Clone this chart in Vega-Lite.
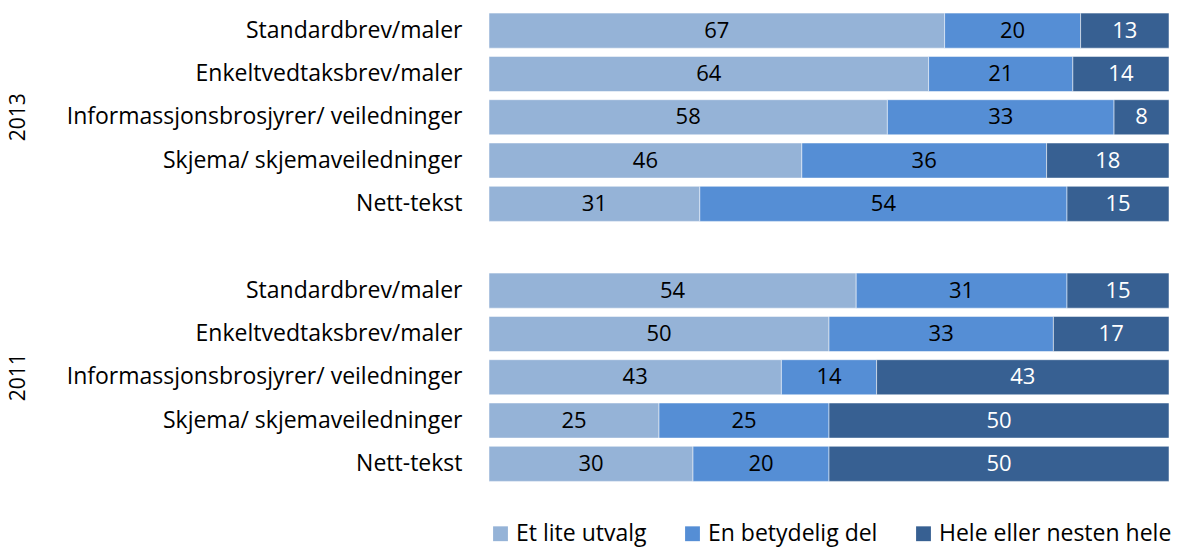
{
  "$schema": "https://vega.github.io/schema/vega-lite/v6.json",
  "padding": {"top": 9, "left": 8, "right": 5, "bottom": 2},
  "config": {
    "font": "Open Sans",
    "view": {"stroke": null},
    "axis": {"grid": false, "domain": false, "ticks": false},
    "legend": {"orient": "bottom", "direction": "horizontal"}
  },
  "data": {"values": [
    {"year": "2013", "cat": "Standardbrev/maler", "series": "Et lite utvalg", "o": 1, "value": 67},
    {"year": "2013", "cat": "Standardbrev/maler", "series": "En betydelig del", "o": 2, "value": 20},
    {"year": "2013", "cat": "Standardbrev/maler", "series": "Hele eller nesten hele", "o": 3, "value": 13},
    {"year": "2013", "cat": "Enkeltvedtaksbrev/maler", "series": "Et lite utvalg", "o": 1, "value": 64},
    {"year": "2013", "cat": "Enkeltvedtaksbrev/maler", "series": "En betydelig del", "o": 2, "value": 21},
    {"year": "2013", "cat": "Enkeltvedtaksbrev/maler", "series": "Hele eller nesten hele", "o": 3, "value": 14},
    {"year": "2013", "cat": "Informassjonsbrosjyrer/ veiledninger", "series": "Et lite utvalg", "o": 1, "value": 58},
    {"year": "2013", "cat": "Informassjonsbrosjyrer/ veiledninger", "series": "En betydelig del", "o": 2, "value": 33},
    {"year": "2013", "cat": "Informassjonsbrosjyrer/ veiledninger", "series": "Hele eller nesten hele", "o": 3, "value": 8},
    {"year": "2013", "cat": "Skjema/ skjemaveiledninger", "series": "Et lite utvalg", "o": 1, "value": 46},
    {"year": "2013", "cat": "Skjema/ skjemaveiledninger", "series": "En betydelig del", "o": 2, "value": 36},
    {"year": "2013", "cat": "Skjema/ skjemaveiledninger", "series": "Hele eller nesten hele", "o": 3, "value": 18},
    {"year": "2013", "cat": "Nett-tekst", "series": "Et lite utvalg", "o": 1, "value": 31},
    {"year": "2013", "cat": "Nett-tekst", "series": "En betydelig del", "o": 2, "value": 54},
    {"year": "2013", "cat": "Nett-tekst", "series": "Hele eller nesten hele", "o": 3, "value": 15},
    {"year": "2011", "cat": "Standardbrev/maler", "series": "Et lite utvalg", "o": 1, "value": 54},
    {"year": "2011", "cat": "Standardbrev/maler", "series": "En betydelig del", "o": 2, "value": 31},
    {"year": "2011", "cat": "Standardbrev/maler", "series": "Hele eller nesten hele", "o": 3, "value": 15},
    {"year": "2011", "cat": "Enkeltvedtaksbrev/maler", "series": "Et lite utvalg", "o": 1, "value": 50},
    {"year": "2011", "cat": "Enkeltvedtaksbrev/maler", "series": "En betydelig del", "o": 2, "value": 33},
    {"year": "2011", "cat": "Enkeltvedtaksbrev/maler", "series": "Hele eller nesten hele", "o": 3, "value": 17},
    {"year": "2011", "cat": "Informassjonsbrosjyrer/ veiledninger", "series": "Et lite utvalg", "o": 1, "value": 43},
    {"year": "2011", "cat": "Informassjonsbrosjyrer/ veiledninger", "series": "En betydelig del", "o": 2, "value": 14},
    {"year": "2011", "cat": "Informassjonsbrosjyrer/ veiledninger", "series": "Hele eller nesten hele", "o": 3, "value": 43},
    {"year": "2011", "cat": "Skjema/ skjemaveiledninger", "series": "Et lite utvalg", "o": 1, "value": 25},
    {"year": "2011", "cat": "Skjema/ skjemaveiledninger", "series": "En betydelig del", "o": 2, "value": 25},
    {"year": "2011", "cat": "Skjema/ skjemaveiledninger", "series": "Hele eller nesten hele", "o": 3, "value": 50},
    {"year": "2011", "cat": "Nett-tekst", "series": "Et lite utvalg", "o": 1, "value": 30},
    {"year": "2011", "cat": "Nett-tekst", "series": "En betydelig del", "o": 2, "value": 20},
    {"year": "2011", "cat": "Nett-tekst", "series": "Hele eller nesten hele", "o": 3, "value": 50}
  ]},
  "facet": {
    "row": {
      "field": "year", "type": "nominal", "sort": ["2013", "2011"],
      "header": {"title": null, "labelAngle": -90, "labelOrient": "left", "labelFontSize": 21, "labelFont": "Open Sans", "labelColor": "#000000", "labelPadding": 26}
    }
  },
  "spacing": {"row": 43},
  "spec": {
    "width": 680,
    "height": 216.5,
    "encoding": {
      "y": {
        "field": "cat", "type": "nominal",
        "sort": ["Standardbrev/maler", "Enkeltvedtaksbrev/maler", "Informassjonsbrosjyrer/ veiledninger", "Skjema/ skjemaveiledninger", "Nett-tekst"],
        "scale": {"paddingInner": 0.19, "paddingOuter": 0.095},
        "axis": {"title": null, "labelFontSize": 23, "labelColor": "#000000", "labelPadding": 26, "labelFont": "Open Sans", "labelLimit": 0}
      },
      "x": {"field": "value", "type": "quantitative", "stack": "normalize", "axis": null},
      "order": {"field": "o", "type": "quantitative"}
    },
    "layer": [
      {
        "mark": {"type": "bar", "stroke": "#ffffff", "strokeWidth": 0.5},
        "encoding": {
          "color": {
            "field": "series", "type": "nominal",
            "scale": {"domain": ["Et lite utvalg", "En betydelig del", "Hele eller nesten hele"], "range": ["#95b3d7", "#558ed5", "#376092"]},
            "legend": {"title": null, "symbolType": "square", "symbolSize": 220, "labelFontSize": 23, "labelColor": "#000000", "columnPadding": 34, "labelFont": "Open Sans", "symbolStrokeWidth": 0, "labelLimit": 0, "offset": 36}
          }
        }
      },
      {
        "mark": {"type": "text", "fontSize": 22, "font": "Open Sans"},
        "encoding": {
          "x": {"field": "value", "type": "quantitative", "stack": "normalize", "bandPosition": 0.5},
          "text": {"field": "value", "type": "quantitative"},
          "color": {"condition": {"test": "datum.series === 'Hele eller nesten hele'", "value": "#ffffff"}, "value": "#000000"}
        }
      }
    ]
  }
}
